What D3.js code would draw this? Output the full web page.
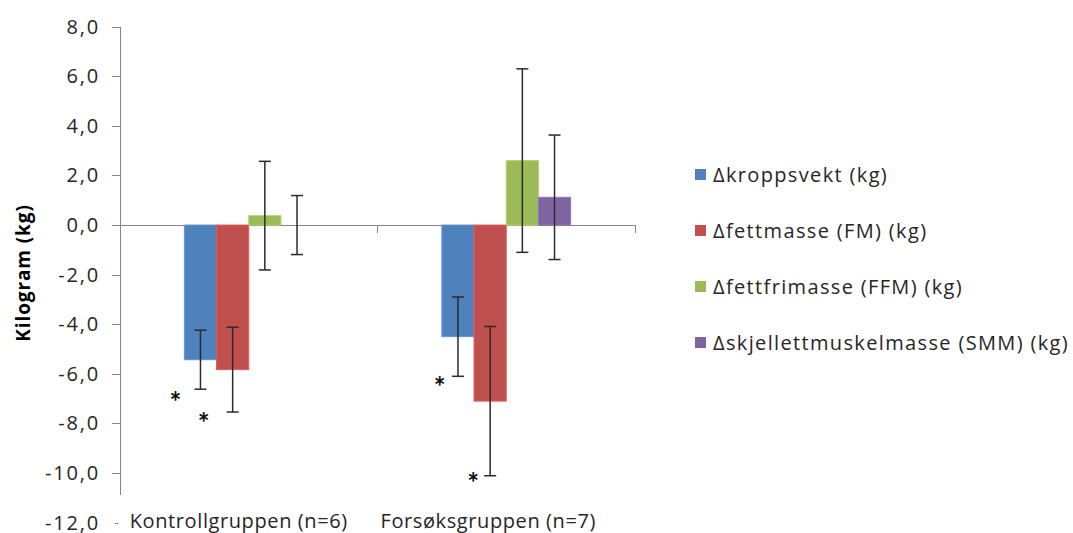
<!DOCTYPE html>
<html>
<head>
    <meta charset="UTF-8">
    <title>Kilogram endring</title>
    <script src="https://d3js.org/d3.v7.min.js"></script>
    <style type="text/css">
        body { margin: 0; background: #fff; }
        text { font-family: "Open Sans", sans-serif; fill: #262626; }
        .axis line, .axis path { stroke: #868686; stroke-width: 1; shape-rendering: crispEdges; }
    </style>
</head>
<body>
<script type="text/javascript">
    // data
    var categories = ["Kontrollgruppen (n=6)", "Forsøksgruppen (n=7)"];
    var seriesNames = ["\u0394kroppsvekt (kg)", "\u0394fettmasse (FM) (kg)", "\u0394fettfrimasse (FFM) (kg)", "\u0394skjellettmuskelmasse (SMM) (kg)"];
    var seriesColors = ["#4F81BD", "#C0504D", "#9BBB59", "#8064A2"];

    var kroppsvekt = [-5.43, -4.50];
    var fettmasse = [-5.83, -7.10];
    var fettfrimasse = [0.38, 2.60];
    var skjellettmuskel = [0.0, 1.12];

    var kroppsvektErr = [1.19, 1.60];
    var fettmasseErr = [1.71, 3.01];
    var fettfrimasseErr = [2.19, 3.70];
    var skjellettmuskelErr = [1.19, 2.51];

    var yTicks = [-12, -10, -8, -6, -4, -2, 0, 2, 4, 6, 8];

    // significance stars: category, series, value (kg), shift in bar widths
    var starCat = [0, 0, 1, 1];
    var starSeries = [0, 1, 0, 1];
    var starValue = [-6.85, -7.69, -6.25, -10.12];
    var starShift = [-0.78, -0.90, -0.57, -0.53];

    var values = [kroppsvekt, fettmasse, fettfrimasse, skjellettmuskel];
    var errors = [kroppsvektErr, fettmasseErr, fettfrimasseErr, skjellettmuskelErr];

    var width = 1073, height = 533;
    var svg = d3.select("body").append("svg")
        .attr("width", width)
        .attr("height", height);

    var y = d3.scaleLinear().domain([-12, 8]).range([522.6, 26.7]);
    var x0 = d3.scaleBand().domain(categories).range([120, 635]);
    var bw = x0.bandwidth();
    var x1 = d3.scaleBand().domain(d3.range(seriesNames.length)).range([bw / 4, bw * 3 / 4]);

    // y axis
    var yAxis = d3.axisLeft(y)
        .tickValues(yTicks)
        .tickSize(8)
        .tickPadding(12)
        .tickFormat(function (d) { return d.toFixed(1).replace(".", ","); });

    var gy = svg.append("g")
        .attr("class", "axis")
        .attr("transform", "translate(120,0)")
        .call(yAxis);
    gy.select(".domain").remove();
    gy.selectAll(".tick text")
        .style("font-size", "20px")
        .style("letter-spacing", "1.8px")
        .style("fill", "#262626");
    gy.selectAll(".tick").filter(function (d) { return d === -12; })
        .select("line").attr("x1", -5).attr("x2", -2);
    gy.append("line")
        .attr("x1", 0).attr("x2", 0)
        .attr("y1", y(8)).attr("y2", y(-10.9));

    // category axis at zero
    var gx = svg.append("g").attr("class", "axis");
    gx.append("line")
        .attr("x1", x0.range()[0]).attr("x2", x0.range()[1])
        .attr("y1", y(0)).attr("y2", y(0));
    gx.selectAll(".cat-tick")
        .data(categories)
        .enter().append("line")
        .attr("x1", function (d) { return x0(d) + bw; })
        .attr("x2", function (d) { return x0(d) + bw; })
        .attr("y1", y(0)).attr("y2", y(0) + 8);

    var labelShift = [-10, -18];
    svg.selectAll(".cat-label")
        .data(categories)
        .enter().append("text")
        .attr("x", function (d, i) { return x0(d) + bw / 2 + labelShift[i]; })
        .attr("y", 528)
        .attr("text-anchor", "middle")
        .style("font-size", "20px")
        .style("letter-spacing", "0.6px")
        .text(function (d) { return d; });

    // bars
    var groups = svg.selectAll(".group")
        .data(categories)
        .enter().append("g")
        .attr("transform", function (d) { return "translate(" + x0(d) + ",0)"; });

    groups.selectAll("rect")
        .data(function (d, ci) {
            return values.map(function (s, si) { return { si: si, v: s[ci] }; });
        })
        .enter().append("rect")
        .attr("x", function (d) { return x1(d.si); })
        .attr("width", x1.bandwidth())
        .attr("y", function (d) { return y(Math.max(0, d.v)); })
        .attr("height", function (d) { return Math.abs(y(d.v) - y(0)); })
        .attr("fill", function (d) { return seriesColors[d.si]; })
        .attr("stroke", function (d) { return d3.color(seriesColors[d.si]).brighter(0.4); })
        .attr("stroke-width", 1);

    // error bars
    var eb = groups.selectAll(".err")
        .data(function (d, ci) {
            return values.map(function (s, si) { return { si: si, v: s[ci], e: errors[si][ci] }; });
        })
        .enter().append("g")
        .attr("stroke", "#2b2b2b")
        .attr("stroke-width", 1.5);
    eb.append("line")
        .attr("x1", function (d) { return x1(d.si) + x1.bandwidth() / 2; })
        .attr("x2", function (d) { return x1(d.si) + x1.bandwidth() / 2; })
        .attr("y1", function (d) { return y(d.v + d.e); })
        .attr("y2", function (d) { return y(d.v - d.e); });
    [1, -1].forEach(function (sign) {
        eb.append("line")
            .attr("x1", function (d) { return x1(d.si) + x1.bandwidth() / 2 - 6; })
            .attr("x2", function (d) { return x1(d.si) + x1.bandwidth() / 2 + 6; })
            .attr("y1", function (d) { return y(d.v + sign * d.e); })
            .attr("y2", function (d) { return y(d.v + sign * d.e); });
    });

    // stars
    svg.selectAll(".star")
        .data(starCat)
        .enter().append("text")
        .attr("x", function (c, i) {
            return x0(categories[c]) + x1(starSeries[i]) + x1.bandwidth() * (0.5 + starShift[i]);
        })
        .attr("y", function (c, i) { return y(starValue[i]) + 17; })
        .attr("text-anchor", "middle")
        .style("font-family", "Lato, sans-serif")
        .style("font-size", "28px")
        .style("font-weight", "bold")
        .style("fill", "#111")
        .text("*");

    // y title
    svg.append("text")
        .attr("transform", "translate(30,273) rotate(-90)")
        .attr("text-anchor", "middle")
        .style("font-size", "19px")
        .style("letter-spacing", "0.9px")
        .style("font-weight", "bold")
        .style("fill", "#000")
        .text("Kilogram (kg)");

    // legend
    var legend = svg.selectAll(".legend")
        .data(seriesNames)
        .enter().append("g")
        .attr("transform", function (d, i) { return "translate(695," + (175 + i * 56) + ")"; });
    legend.append("rect")
        .attr("x", 0).attr("y", -6)
        .attr("width", 11).attr("height", 11)
        .attr("fill", function (d, i) { return seriesColors[i]; });
    legend.append("text")
        .attr("x", 18)
        .attr("y", 7)
        .style("font-size", "20px")
        .style("letter-spacing", "1.35px")
        .text(function (d) { return d; });
</script>
</body>
</html>
